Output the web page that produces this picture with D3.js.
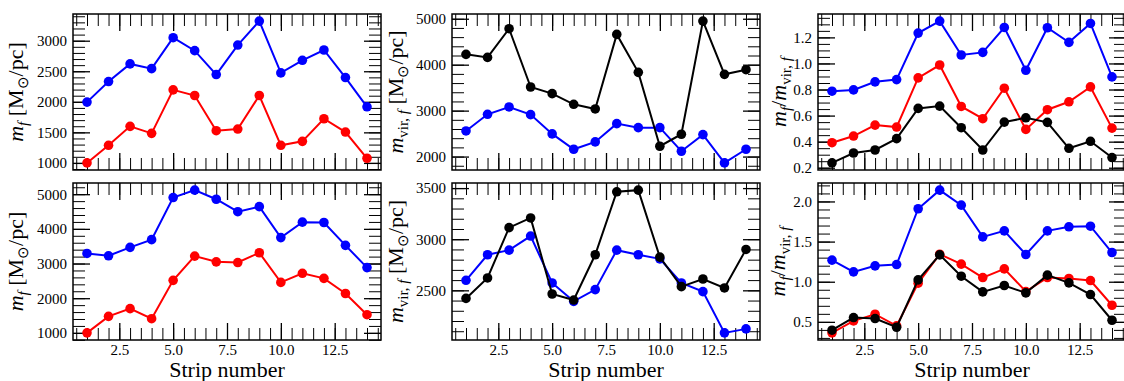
<!DOCTYPE html>
<meta charset="utf-8">
<html>
<head>
  <title>Strip masses</title>
  <style>
    body { margin: 0; background: #fff; }
    svg { display: block; }
    .tick text, .label { font-family: 'Liberation Serif', serif; fill: #000; }
    .tick text { font-size: 15px; }
    .label { font-size: 22px; }
    .tick line { stroke: #000; }
    .series { fill: none; stroke-width: 2px; }
  </style>
  <script src="https://d3js.org/d3.v7.min.js"></script>
</head>
<body>
  <svg width="1124" height="381"></svg>
  <script>
    // strip index along x
    var strips = [1, 2, 3, 4, 5, 6, 7, 8, 9, 10, 11, 12, 13, 14];

    // top row
    var mfBlueTop   = [1995, 2332, 2620, 2543, 3049, 2837, 2446, 2929, 3321, 2473, 2679, 2848, 2397, 1918];
    var mfRedTop    = [1000, 1288, 1598, 1484, 2196, 2103, 1527, 1554, 2103, 1288, 1353, 1723, 1505, 1076];
    var mvirBlueTop = [2558, 2920, 3080, 2913, 2493, 2159, 2319, 2717, 2630, 2630, 2116, 2478, 1862, 2159];
    var mvirBlackTop= [4225, 4159, 4783, 3514, 3370, 3138, 3036, 4659, 3833, 2225, 2486, 4949, 3790, 3891];
    var ratioBlueTop  = [0.787, 0.797, 0.859, 0.876, 1.233, 1.325, 1.065, 1.085, 1.276, 0.948, 1.274, 1.162, 1.307, 0.897];
    var ratioRedTop   = [0.392, 0.443, 0.527, 0.512, 0.889, 0.988, 0.670, 0.576, 0.810, 0.494, 0.645, 0.706, 0.820, 0.504];
    var ratioBlackTop = [0.237, 0.313, 0.336, 0.423, 0.655, 0.673, 0.507, 0.336, 0.550, 0.583, 0.548, 0.349, 0.403, 0.278];

    // bottom row
    var mfBlueBot   = [3291, 3223, 3466, 3689, 4903, 5117, 4854, 4495, 4641, 3748, 4194, 4184, 3524, 2883];
    var mfRedBot    = [1000, 1476, 1699, 1408, 2515, 3214, 3049, 3029, 3311, 2456, 2718, 2573, 2136, 1524];
    var mvirBlueBot = [2598, 2848, 2893, 3031, 2572, 2392, 2507, 2893, 2848, 2808, 2572, 2487, 2084, 2123];
    var mvirBlackBot= [2421, 2621, 3113, 3208, 2464, 2405, 2848, 3464, 3480, 2825, 2536, 2611, 2523, 2900];
    var ratioBlueBot  = [1.269, 1.123, 1.198, 1.214, 1.909, 2.141, 1.954, 1.559, 1.634, 1.339, 1.634, 1.684, 1.692, 1.364];
    var ratioRedBot   = [0.363, 0.512, 0.595, 0.450, 0.982, 1.343, 1.219, 1.052, 1.160, 0.878, 1.052, 1.040, 1.015, 0.707];
    var ratioBlackBot = [0.396, 0.554, 0.541, 0.433, 1.023, 1.335, 1.069, 0.874, 0.953, 0.861, 1.082, 0.986, 0.840, 0.520];

    // tick values
    var xTicks = [2.5, 5, 7.5, 10, 12.5];
    var yTicksMfTop    = [1000, 1500, 2000, 2500, 3000];
    var yTicksMvirTop  = [2000, 3000, 4000, 5000];
    var yTicksRatioTop = [0.2, 0.4, 0.6, 0.8, 1.0, 1.2];
    var yTicksMfBot    = [1000, 2000, 3000, 4000, 5000];
    var yTicksMvirBot  = [2500, 3000, 3500];
    var yTicksRatioBot = [0.5, 1.0, 1.5, 2.0];

    // axis labels: [text, style] where i = italic, s = subscript
    var labelMf    = [["m", "i"], ["f", "si"], [" [M", ""], ["\u2299", "s"], ["/pc]", ""]];
    var labelMvir  = [["m", "i"], ["vir, ", "s"], ["f", "si"], [" [M", ""], ["\u2299", "s"], ["/pc]", ""]];
    var labelRatio = [["m", "i"], ["f", "si"], ["/", ""], ["m", "i"], ["vir, ", "s"], ["f", "si"]];
    var xLabel = "Strip number";

    var W = 308;
    var majorLen = 17, minorLen = 12;

    var panels = [
      {left: 73,  top: 14,  h: 156, series: [[mfBlueTop, "blue"], [mfRedTop, "red"]],
       yTicks: yTicksMfTop, yMinor: 100, fmt: "d", label: labelMf, labelX: 22.5, showX: false},
      {left: 452, top: 14,  h: 156, series: [[mvirBlueTop, "blue"], [mvirBlackTop, "black"]],
       yTicks: yTicksMvirTop, yMinor: 200, fmt: "d", label: labelMvir, labelX: 403, showX: false},
      {left: 818, top: 14,  h: 156, series: [[ratioBlueTop, "blue"], [ratioRedTop, "red"], [ratioBlackTop, "black"]],
       yTicks: yTicksRatioTop, yMinor: 0.05, fmt: ".1f", label: labelRatio, labelX: 786, showX: false},
      {left: 73,  top: 183, h: 157, series: [[mfBlueBot, "blue"], [mfRedBot, "red"]],
       yTicks: yTicksMfBot, yMinor: 200, fmt: "d", label: labelMf, labelX: 22.5, showX: true},
      {left: 452, top: 183, h: 157, series: [[mvirBlueBot, "blue"], [mvirBlackBot, "black"]],
       yTicks: yTicksMvirBot, yMinor: 100, fmt: "d", label: labelMvir, labelX: 403, showX: true},
      {left: 818, top: 183, h: 157, series: [[ratioBlueBot, "blue"], [ratioRedBot, "red"], [ratioBlackBot, "black"]],
       yTicks: yTicksRatioBot, yMinor: 0.1, fmt: ".1f", label: labelRatio, labelX: 785, showX: true}
    ];

    var svg = d3.select("svg");

    // matplotlib-style 5% margins around the data
    function padded(ext) {
      var p = (ext[1] - ext[0]) * 0.05;
      return [ext[0] - p, ext[1] + p];
    }

    function minorValues(domain, step) {
      var out = [];
      var start = Math.ceil(domain[0] / step - 1e-9);
      for (var k = start; k * step <= domain[1] + 1e-9; k++) out.push(+(k * step).toFixed(6));
      return out;
    }

    function drawAxis(g, axis, transform, len, values, labels) {
      var a = axis.tickValues(values).tickSizeInner(-len).tickSizeOuter(0).tickPadding(len > 14 ? 6 : 0);
      if (!labels) a.tickFormat("");
      var sel = g.append("g").attr("transform", transform).call(a);
      sel.select(".domain").remove();
      sel.attr("font-size", null).attr("font-family", null);
      sel.selectAll(".tick line").attr("stroke-width", len > 14 ? 1.3 : 1);
      return sel;
    }

    panels.forEach(function(p) {
      var h = p.h;
      var g = svg.append("g").attr("transform", "translate(" + p.left + "," + p.top + ")");

      var x = d3.scaleLinear().domain(padded(d3.extent(strips))).range([0, W]);
      var all = [];
      p.series.forEach(function(s) { all = all.concat(s[0]); });
      var y = d3.scaleLinear().domain(padded(d3.extent(all))).range([h, 0]);

      var xMinor = minorValues(x.domain(), 0.5);
      var yMinor = minorValues(y.domain(), p.yMinor);
      var fmt = d3.format(p.fmt);

      // minor ticks on all four sides
      drawAxis(g, d3.axisBottom(x), "translate(0," + h + ")", minorLen, xMinor, false);
      drawAxis(g, d3.axisTop(x), "translate(0,0)", minorLen, xMinor, false);
      drawAxis(g, d3.axisLeft(y), "translate(0,0)", minorLen, yMinor, false);
      drawAxis(g, d3.axisRight(y), "translate(" + W + ",0)", minorLen, yMinor, false);

      // major ticks
      var xb = drawAxis(g, d3.axisBottom(x).tickFormat(d3.format(".1f")), "translate(0," + h + ")", majorLen, xTicks, p.showX);
      drawAxis(g, d3.axisTop(x), "translate(0,0)", majorLen, xTicks, false);
      drawAxis(g, d3.axisLeft(y).tickFormat(fmt), "translate(0,0)", majorLen, p.yTicks, true);
      drawAxis(g, d3.axisRight(y), "translate(" + W + ",0)", majorLen, p.yTicks, false);
      if (p.showX) xb.selectAll(".tick text").attr("y", 4);

      // frame
      g.append("rect")
        .attr("width", W).attr("height", h)
        .attr("fill", "none").attr("stroke", "#000").attr("stroke-width", 1.5);

      var line = d3.line()
        .x(function(d, i) { return x(strips[i]); })
        .y(function(d) { return y(d); });

      p.series.forEach(function(s) {
        var sg = g.append("g");
        sg.append("path")
          .datum(s[0])
          .attr("class", "series")
          .attr("stroke", s[1])
          .attr("d", line);
        sg.selectAll("circle")
          .data(s[0])
          .enter().append("circle")
          .attr("cx", function(d, i) { return x(strips[i]); })
          .attr("cy", function(d) { return y(d); })
          .attr("r", 4.8)
          .attr("fill", s[1]);
      });

      // y label, rotated, with italic / subscript pieces
      var t = svg.append("text")
        .attr("class", "label")
        .attr("text-anchor", "middle")
        .attr("transform", "translate(" + p.labelX + "," + (p.top + h / 2) + ") rotate(-90)");
      var shift = 0;
      p.label.forEach(function(part) {
        var sub = part[1].indexOf("s") >= 0;
        var target = sub ? 5 : 0;
        var ts = t.append("tspan").text(part[0]).attr("dy", target - shift);
        shift = target;
        if (sub) ts.attr("font-size", "15px");
        if (part[1].indexOf("i") >= 0) ts.attr("font-style", "italic");
      });

      if (p.showX) {
        svg.append("text")
          .attr("class", "label")
          .attr("text-anchor", "middle")
          .attr("x", p.left + W / 2)
          .attr("y", 377)
          .text(xLabel);
      }
    });
  </script>
</body>
</html>
